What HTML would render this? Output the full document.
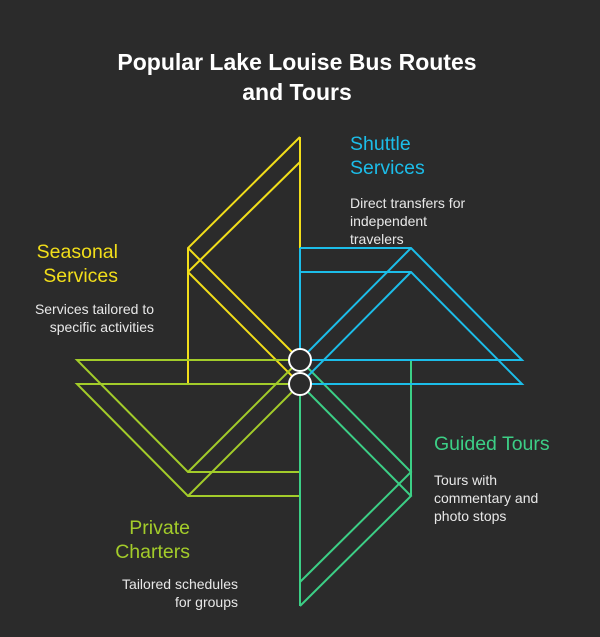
<!DOCTYPE html>
<html><head><style>
body{margin:0;background:#2b2b2b;}
svg{display:block}
text{font-family:"Liberation Sans",sans-serif}
</style></head><body>
<svg width="600" height="637" viewBox="0 0 600 637">
<rect width="600" height="637" fill="#2b2b2b"/>
<text x="297" y="70" font-size="23" font-weight="bold" fill="#fff" text-anchor="middle">Popular Lake Louise Bus Routes</text>
<text x="297" y="100" font-size="23" font-weight="bold" fill="#fff" text-anchor="middle">and Tours</text>
<g fill="none" stroke-width="2">
<g stroke="#f2de1a">
<path d="M300 137V360M300 137L188 248V384M300 162L188 272M188 248L300 360M188 272L300 384"/>
</g>
<g stroke="#a3cc2a">
<path d="M300 360H77L188 472H300M300 384H77L188 496H300M188 472L300 360M188 496L300 384"/>
</g>
<g stroke="#3ccf86">
<path d="M411 360V496M300 360L411 472L300 582M300 384L411 496L300 606M300 384V606"/>
</g>
<g stroke="#1cbde9">
<path d="M300 248H411L522 360H300M300 272H411L522 384H300M411 248L300 360M411 272L300 384M300 248V360"/>
</g>
<g stroke="#fff" fill="#2b2b2b">
<circle cx="300" cy="360" r="11"/>
<circle cx="300" cy="384" r="11"/>
</g>
</g>
<g font-size="19.5">
<text x="350" y="150" fill="#1cbde9">Shuttle</text>
<text x="350" y="174" fill="#1cbde9">Services</text>
<text x="118" y="258" fill="#f2de1a" text-anchor="end">Seasonal</text>
<text x="118" y="282" fill="#f2de1a" text-anchor="end">Services</text>
<text x="434" y="450" fill="#3ccf86">Guided Tours</text>
<text x="190" y="534" fill="#a3cc2a" text-anchor="end">Private</text>
<text x="190" y="558" fill="#a3cc2a" text-anchor="end">Charters</text>
</g>
<g font-size="14" fill="#e8e8e8">
<text x="350" y="208">Direct transfers for</text>
<text x="350" y="226">independent</text>
<text x="350" y="244">travelers</text>
<text x="154" y="314" text-anchor="end">Services tailored to</text>
<text x="154" y="332" text-anchor="end">specific activities</text>
<text x="434" y="485">Tours with</text>
<text x="434" y="503">commentary and</text>
<text x="434" y="521">photo stops</text>
<text x="238" y="589" text-anchor="end">Tailored schedules</text>
<text x="238" y="607" text-anchor="end">for groups</text>
</g>
</svg>
</body></html>
